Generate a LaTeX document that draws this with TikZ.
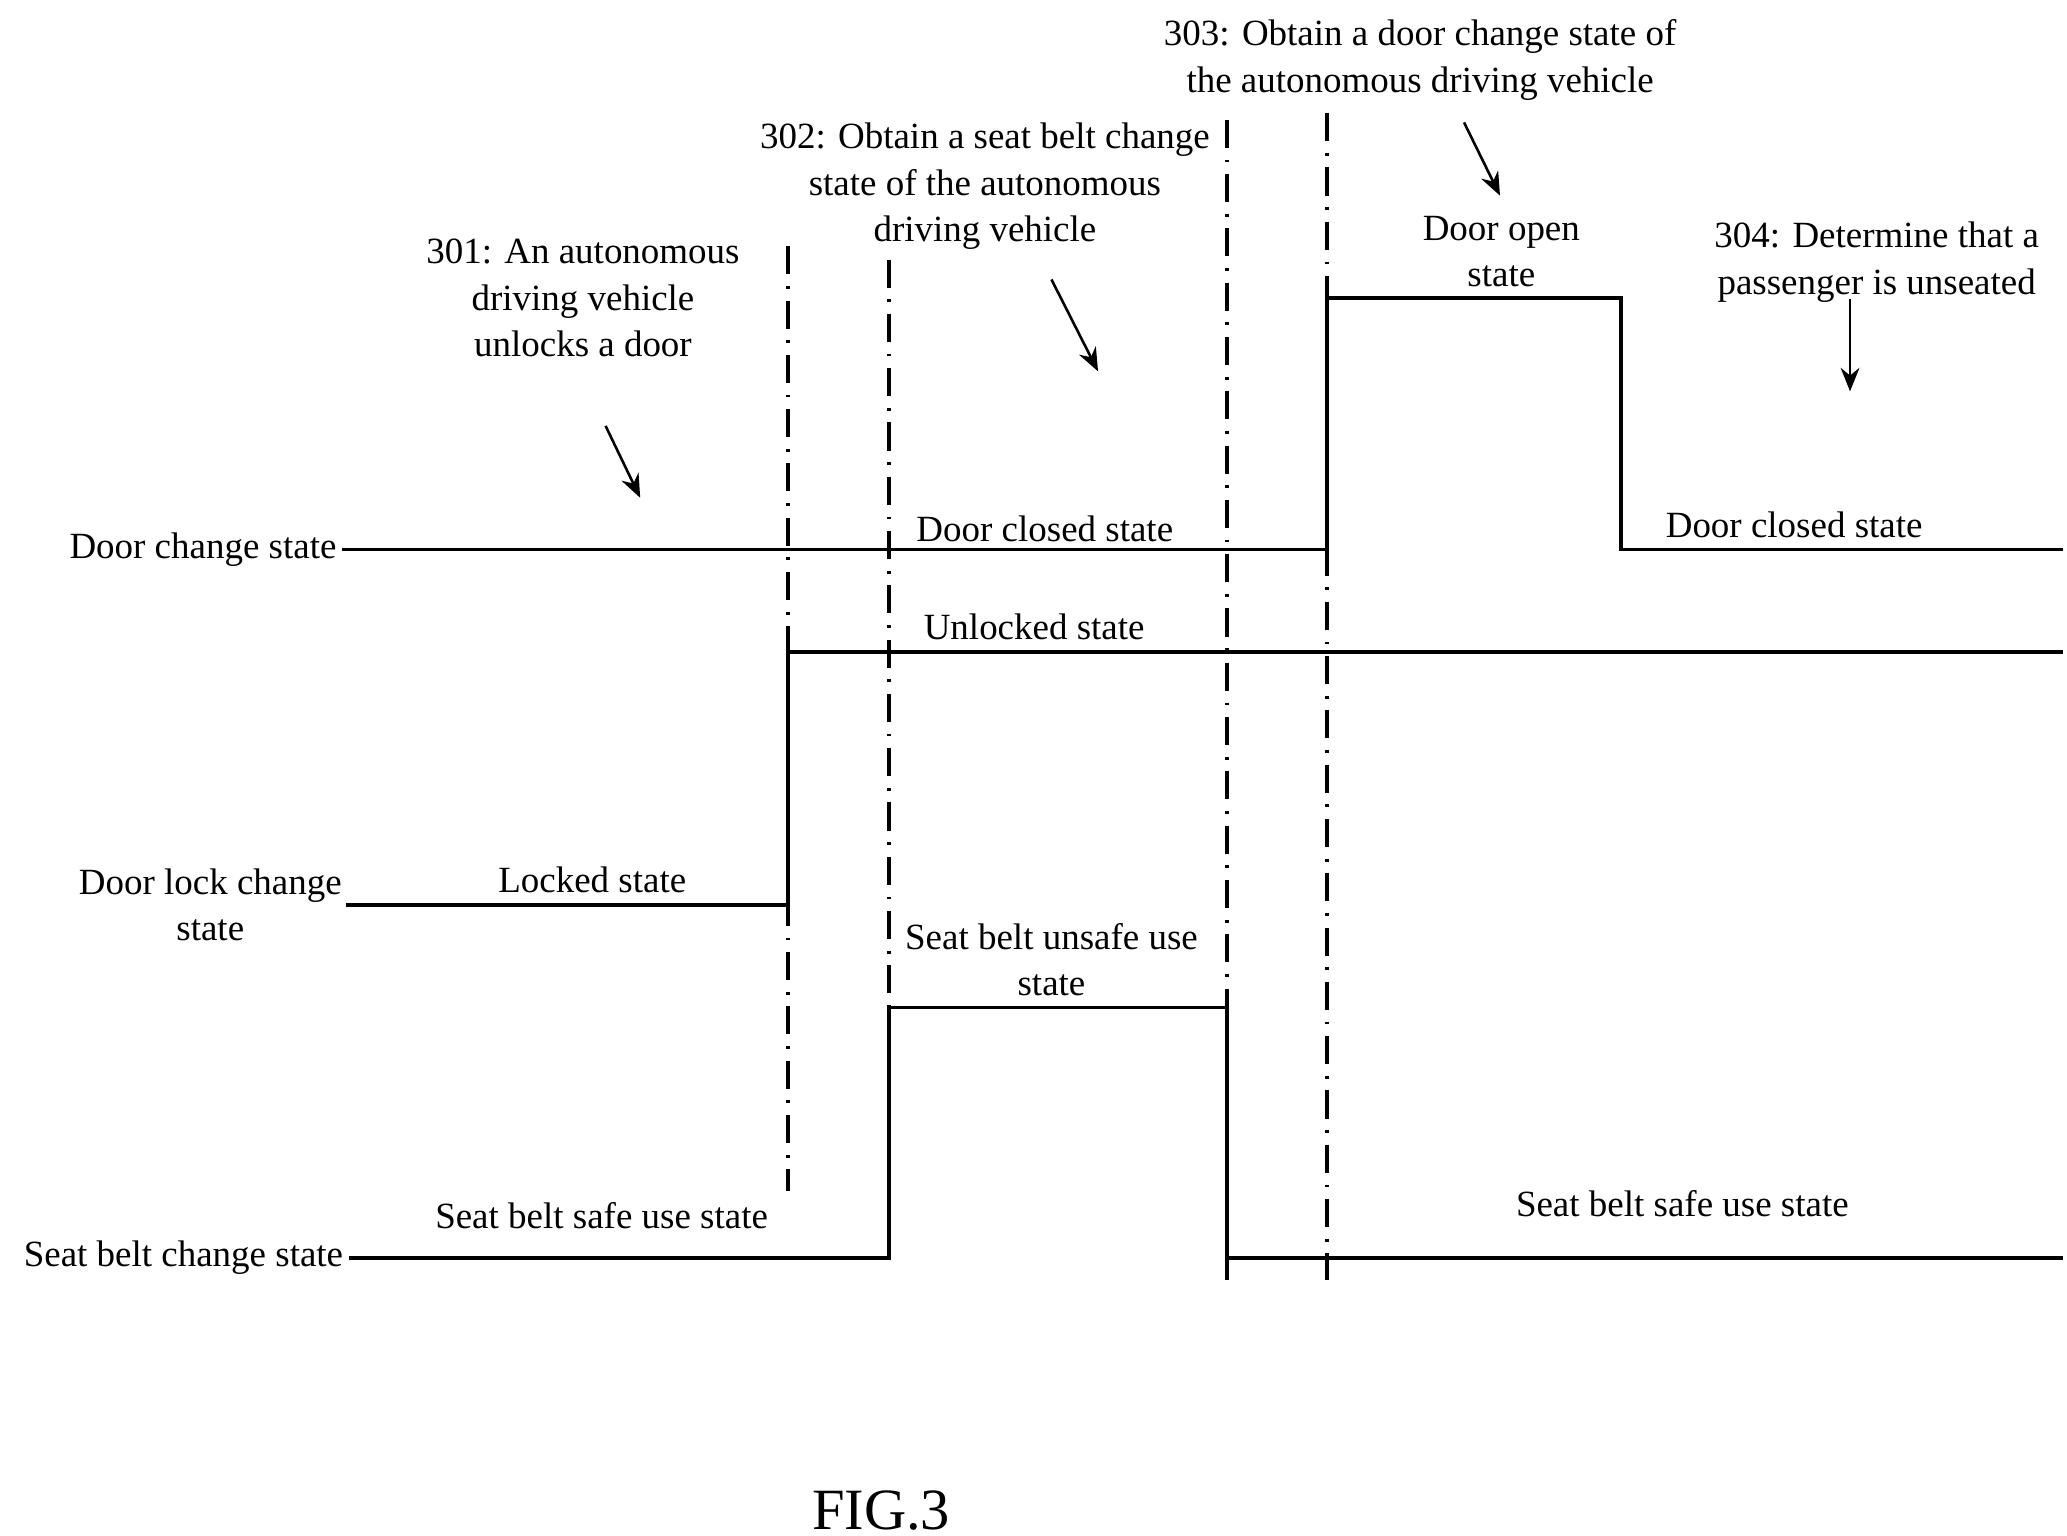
\documentclass[tikz,border=0pt]{standalone}
\usepackage{fontspec}
\setmainfont{Liberation Serif}
\usetikzlibrary{arrows.meta}

\begin{document}
\begin{tikzpicture}[x=0.01cm, y=-0.01cm,
    every node/.style={font=\fontsize{7.9}{9.9}\selectfont, align=center, inner sep=1pt},
    signal/.style={line width=0.75pt},
    marker/.style={line width=0.75pt, dash pattern=on 6pt off 2.5pt on 0.6pt off 2.5pt},
    pointer/.style={line width=0.55pt, -{Stealth[length=5pt, width=4pt]}}]

    \useasboundingbox (0,0) rectangle (1553,1154);

    % Signal names
    \node[anchor=east] (doorname) at (257,413) {Door change state};
    \node (lockname) at (158,680) {Door lock change\\state};
    \node[anchor=east] (beltname) at (262,945) {Seat belt change state};

    % Door change signal
    \draw[signal] (doorname.east) -- (997,413) -- (997,224) -- (1218,224) -- (1218,413) -- (1550,413);
    \node (doorclosedA) at (785,397) {Door closed state};
    \node (dooropen) at (1128,189) {Door open\\state};
    \node (doorclosedB) at (1348,394) {Door closed state};

    % Door lock signal
    \draw[signal] (260,680) -- (592,680) -- (592,490) -- (1550,490);
    \node (locked) at (445,661) {Locked state};
    \node (unlocked) at (777,471) {Unlocked state};

    % Seat belt signal
    \draw[signal] (beltname.east) -- (668,945) -- (668,757) -- (922,757) -- (922,945) -- (1550,945);
    \node (beltsafeA) at (452,913) {Seat belt safe use state};
    \node (beltunsafe) at (790,721) {Seat belt unsafe use\\state};
    \node (beltsafeB) at (1264,904) {Seat belt safe use state};

    % Step markers
    \draw[marker] (592,185) -- (592,895);
    \draw[marker] (668,195) -- (668,945);
    \draw[marker] (922,90) -- (922,962);
    \draw[marker] (997,85) -- (997,962);

    % Step texts
    \node (step301) at (438,224) {301: An autonomous\\driving vehicle\\unlocks a door};
    \node (step302) at (740,140) {302: Obtain a seat belt change\\state of the autonomous\\driving vehicle};
    \node (step303) at (1067,45) {303: Obtain a door change state of\\the autonomous driving vehicle};
    \node (step304) at (1410,197) {304: Determine that a\\passenger is unseated};

    % Step pointers
    \coordinate (p301a) at (455,320); \coordinate (p301b) at (481,374);
    \coordinate (p302a) at (790,210); \coordinate (p302b) at (825,279);
    \coordinate (p303a) at (1100,92); \coordinate (p303b) at (1127,147);
    \coordinate (p304a) at (1390,225); \coordinate (p304b) at (1390,294);
    \draw[pointer] (p301a) -- (p301b);
    \draw[pointer] (p302a) -- (p302b);
    \draw[pointer] (p303a) -- (p303b);
    \draw[pointer] (p304a) -- (p304b);

    % Caption
    \node[font=\fontsize{12.5}{14}\selectfont] (caption) at (662,1135) {FIG.3};

\end{tikzpicture}
\end{document}
